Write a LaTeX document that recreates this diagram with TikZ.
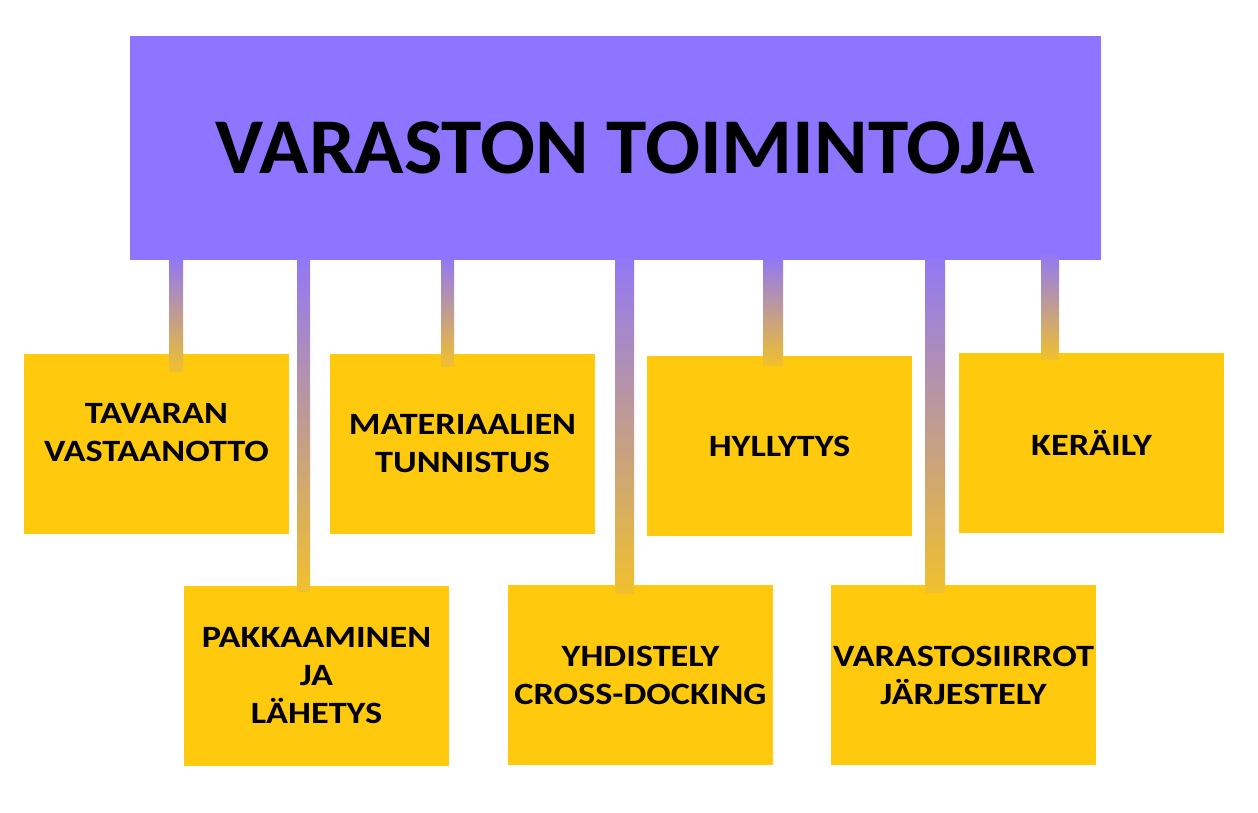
\documentclass[tikz,border=0pt]{standalone}
\usepackage{fontspec}
\setmainfont{Carlito}
\newfontfamily\boxfont[FakeStretch=1.17]{Carlito}
\newfontfamily\titlefont[FakeStretch=1.03]{Carlito}
\usepackage{tikz}
\usetikzlibrary{positioning}
\usetikzlibrary{calc}
\definecolor{titlepurple}{RGB}{141,117,255}
\definecolor{boxyellow}{RGB}{255,201,14}
\definecolor{bartop}{RGB}{145,120,245}
\definecolor{barbottom}{RGB}{240,192,45}
\tikzset{
  box_style/.style = {
    rectangle, fill = boxyellow, inner sep = 0pt, outer sep = 0pt, minimum width = 265pt, minimum height = 180pt, align = center, font = \boxfont\fontsize{31}{38}\selectfont\bfseries  },
  raised/.style = {text depth = 24pt},
  plain/.style = {}
}

\begin{document}
\begin{tikzpicture}[x=1pt,y=-1pt,
title_style/.style={rectangle,fill=titlepurple,inner sep=0pt,outer sep=0pt,minimum width=971pt,minimum height=224pt,font=\titlefont\fontsize{79}{90}\selectfont\bfseries},
bar_style/.style={top color=bartop,bottom color=barbottom}]
\useasboundingbox (0,0) rectangle (1258,812);

\node[title_style] (top) at (615.5,148) {\hspace*{20pt}VARASTON TOIMINTOJA};

% upper row and lower row
\foreach \x/\y/\n/\o/\t in {156.5/444/t1/raised/{TAVARAN\\VASTAANOTTO},
  462.5/444/t2/plain/{MATERIAALIEN\\TUNNISTUS},
  779.5/446/t3/plain/{HYLLYTYS},
  1091.5/443/t4/plain/{KERÄILY},
  316.5/676/t5/plain/{PAKKAAMINEN\\JA\\LÄHETYS},
  640.5/675/t6/plain/{YHDISTELY\\CROSS-DOCKING},
  963.5/675/t7/plain/{VARASTOSIIRROT\\JÄRJESTELY}}{
 \node[box_style,\o] (\n) at (\x,\y) {\t};
}

% bars from the title down to the boxes
\foreach \n/\l/\r/\u/\d in {t1/12.5/26.5/2/17,t5/-19.5/-6.5/2/5,t2/-21.5/-8.5/2/12,
  t6/-25.5/-6.5/2/8,t3/-16.5/3.5/2/9,t7/-38.5/-18.5/2/7,t4/-50.5/-32.5/6/6}{
 \shade[bar_style] ([xshift=\l pt,yshift=\u pt]\n.north |- top.south) rectangle ([xshift=\r pt,yshift=-\d pt]\n.north);
}
\end{tikzpicture}
\end{document}
